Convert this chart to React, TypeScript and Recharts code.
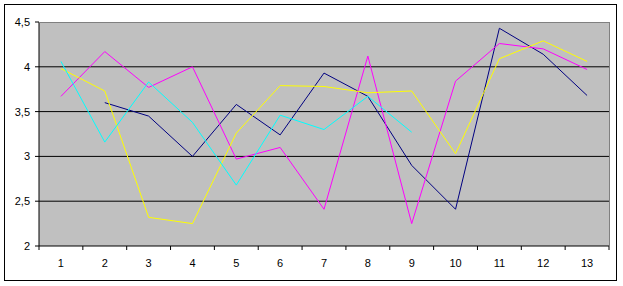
import { LineChart, Line, XAxis, YAxis, CartesianGrid } from 'recharts';

const categories = ['1', '2', '3', '4', '5', '6', '7', '8', '9', '10', '11', '12', '13'];
const navy = [null, 3.6, 3.45, 3.0, 3.58, 3.24, 3.93, 3.67, 2.9, 2.41, 4.43, 4.14, 3.68];
const magenta = [3.67, 4.17, 3.77, 4.0, 2.97, 3.1, 2.41, 4.12, 2.25, 3.84, 4.26, 4.2, 3.97];
const yellow = [3.98, 3.73, 2.32, 2.25, 3.26, 3.79, 3.78, 3.71, 3.73, 3.03, 4.09, 4.29, 4.06];
const cyan = [4.06, 3.16, 3.83, 3.38, 2.68, 3.46, 3.3, 3.67, 3.27, null, null, null, null];
const yTicks = [2, 2.5, 3, 3.5, 4, 4.5];

const data = categories.map((c, i) => ({
  x: c,
  navy: navy[i],
  magenta: magenta[i],
  yellow: yellow[i],
  cyan: cyan[i],
}));

const W = 623;
const H = 286;
const PLOT_LEFT = 39;
const PLOT_RIGHT = 609;
const PLOT_TOP = 22;
const PLOT_BOTTOM = 246;
const half = (PLOT_RIGHT - PLOT_LEFT) / categories.length / 2;

const font = { fontFamily: '"Liberation Sans", Arial, sans-serif', fontSize: 11, fill: '#000' };

const XTick = (props: any) => {
  const { x, payload, index } = props;
  const top = PLOT_BOTTOM;
  return (
    <g>
      <line x1={x - half} x2={x - half} y1={top} y2={top + 4} stroke="#000" />
      {index === categories.length - 1 && (
        <line x1={x + half} x2={x + half} y1={top} y2={top + 4} stroke="#000" />
      )}
      <text x={x} y={top + 13} dy="0.71em" textAnchor="middle" {...font}>
        {payload.value}
      </text>
    </g>
  );
};

export default function App() {
  return (
    <div style={{ position: 'absolute', left: 0, top: 0, width: W, height: H, background: '#fff' }}>
      <div
        style={{
          position: 'absolute',
          left: 4,
          top: 4,
          width: 613,
          height: 277,
          border: '1px solid #000',
          boxSizing: 'border-box',
        }}
      />
      <LineChart
        width={W}
        height={H}
        data={data}
        margin={{ top: PLOT_TOP, right: W - PLOT_RIGHT, bottom: 0, left: 0 }}
        style={{ position: 'absolute', left: 0, top: 0 }}
      >
        <CartesianGrid
          vertical={false}
          horizontalValues={[2.5, 3, 3.5, 4]}
          stroke="#000"
          fill="#C0C0C0"
          fillOpacity={1}
        />
        <XAxis
          dataKey="x"
          scale="band"
          axisLine={{ stroke: '#000' }}
          tickLine={false}
          tick={<XTick />}
          interval={0}
          height={H - PLOT_BOTTOM}
        />
        <YAxis
          domain={[2, 4.5]}
          ticks={yTicks}
          width={PLOT_LEFT}
          axisLine={{ stroke: '#000' }}
          tickLine={{ stroke: '#000' }}
          tickSize={4}
          tickMargin={5}
          tick={font}
          tickFormatter={(v: number) => String(v).replace('.', ',')}
        />
        <Line dataKey="navy" stroke="#000080" strokeWidth={1} dot={false} isAnimationActive={false} />
        <Line dataKey="magenta" stroke="#FF00FF" strokeWidth={1} dot={false} isAnimationActive={false} />
        <Line dataKey="yellow" stroke="#FFFF00" strokeWidth={1} dot={false} isAnimationActive={false} />
        <Line dataKey="cyan" stroke="#00FFFF" strokeWidth={1} dot={false} isAnimationActive={false} />
      </LineChart>
      <div
        style={{
          position: 'absolute',
          left: PLOT_LEFT,
          top: PLOT_TOP,
          width: PLOT_RIGHT - PLOT_LEFT + 1,
          height: PLOT_BOTTOM - PLOT_TOP,
          borderTop: '1px solid #808080',
          borderRight: '1px solid #808080',
          boxSizing: 'border-box',
          pointerEvents: 'none',
        }}
      />
    </div>
  );
}
